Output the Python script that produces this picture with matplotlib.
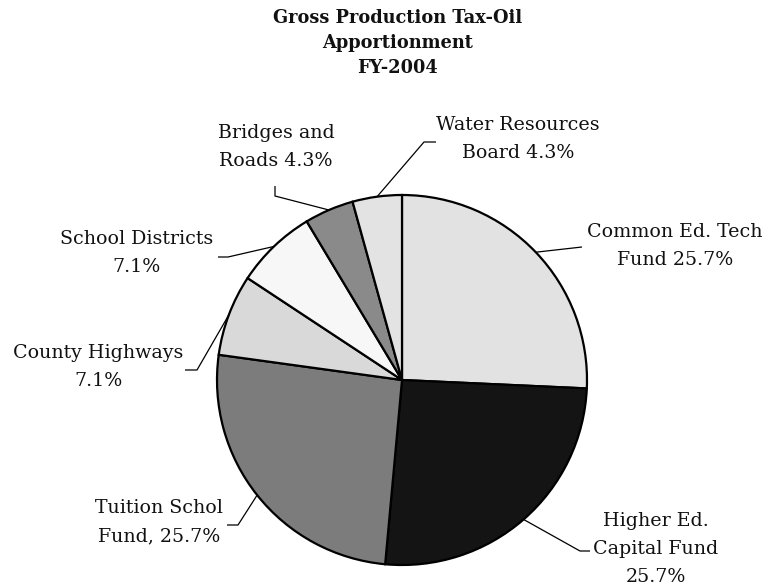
import numpy as np
import matplotlib
matplotlib.use("Agg")
import matplotlib.pyplot as plt

# ---- data ----
categories = ["Common Ed. Tech Fund", "Higher Ed. Capital Fund", "Tuition Schol Fund",
              "County Highways", "School Districts", "Bridges and Roads",
              "Water Resources Board"]
values = [25.7, 25.7, 25.7, 7.1, 7.1, 4.3, 4.3]
label_texts = ["Common Ed. Tech\nFund 25.7%", "Higher Ed.\nCapital Fund\n25.7%",
               "Tuition Schol\nFund, 25.7%", "County Highways\n7.1%",
               "School Districts\n7.1%", "Bridges and\nRoads 4.3%",
               "Water Resources\nBoard 4.3%"]
title = "Gross Production Tax-Oil\nApportionment\nFY-2004"

# ---- style / layout ----
colors = ["#e2e2e2", "#141414", "#7c7c7c", "#d9d9d9", "#f7f7f7", "#8a8a8a", "#e3e3e3"]
W, H = 776, 588
cx, cy, R = 402, 380, 185          # pixel coordinates (y downward)
label_pos = [(675, 246), (656, 549), (159, 522), (98, 367), (137, 253), (276, 147), (518, 139)]
leader_mid = [(582, 247), (580, 551), (238, 525), (197, 370), (228, 257), (275, 196), (424, 142)]
leader_end = [(582, 247), (590, 551), (227, 525), (185, 370), (218, 257), (275, 186), (436, 142)]

FONT = ["DejaVu Serif"]

fig = plt.figure(figsize=(W / 100, H / 100), dpi=100)
ax = fig.add_axes([0, 0, 1, 1])

def Y(y):
    return H - y

wedges, _ = ax.pie(values, colors=colors, startangle=90, counterclock=False,
                   center=(cx, Y(cy)), radius=R,
                   wedgeprops=dict(edgecolor="black", linewidth=1.6))
ax.set_xlim(0, W)
ax.set_ylim(0, H)
ax.set_aspect("equal")
ax.axis("off")

for w, txt, lp, lm, le in zip(wedges, label_texts, label_pos, leader_mid, leader_end):
    ang = np.deg2rad((w.theta1 + w.theta2) / 2)
    ex = cx + R * np.cos(ang)
    ey = Y(cy) + R * np.sin(ang)
    ax.plot([ex, lm[0], le[0]], [ey, Y(lm[1]), Y(le[1])], color="black", lw=0.9,
            solid_capstyle="butt", zorder=3)
    ax.text(lp[0], Y(lp[1]), txt, ha="center", va="center", fontsize=13.7,
            family=FONT, linespacing=1.74, color="#111111")

ax.text(398, Y(43), title, ha="center", va="center", fontsize=12.8, fontweight="bold",
        family=FONT, linespacing=1.5, color="#111111")

fig.savefig("out.png", dpi=100)
